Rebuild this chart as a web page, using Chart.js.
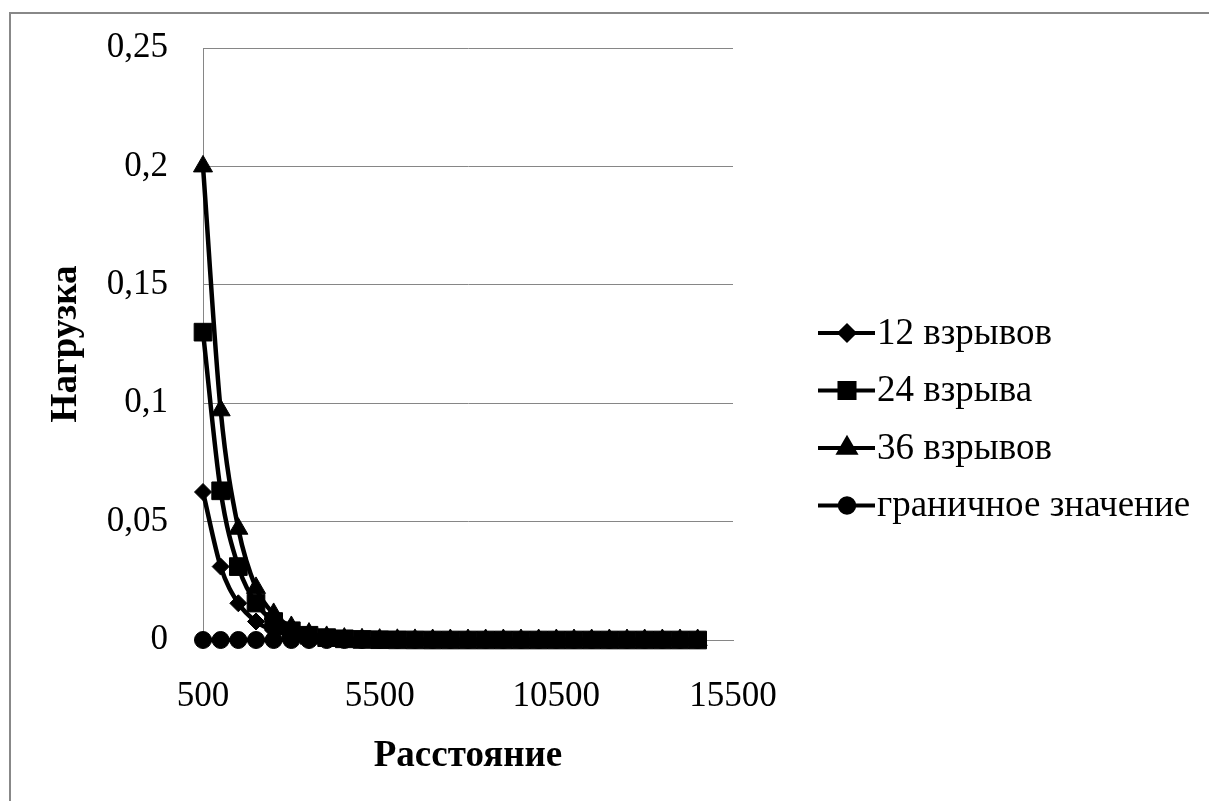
<!DOCTYPE html>
<html>
<head>
<meta charset="utf-8">
<script src="https://cdn.jsdelivr.net/npm/chart.js@4.4.0/dist/chart.umd.min.js"></script>
<style>
  html, body { margin: 0; padding: 0; background: #fff; }
  #wrap { position: relative; width: 1209px; height: 801px; overflow: hidden; }
  #frame { position: absolute; left: 9px; top: 12px; width: 1230px; height: 830px; border: 2px solid #888; }
  #chart { position: absolute; left: 0; top: 0; }
</style>
</head>
<body>
<div id="wrap">
  <div id="frame"></div>
  <canvas id="chart" width="1209" height="801"></canvas>
</div>
<script>
// distance points (x), 500 .. 14500
const distances = [500, 1000, 1500, 2000, 2500, 3000, 3500, 4000, 4500, 5000, 5500, 6000, 6500, 7000,
  7500, 8000, 8500, 9000, 9500, 10000, 10500, 11000, 11500, 12000, 12500, 13000, 13500, 14000, 14500];

const load12 = [0.0625, 0.031, 0.0155, 0.0078, 0.0039, 0.002, 0.001, 0.0005, 0.00024, 0.00012, 0.00006, 0.00003, 0, 0,
  0, 0, 0, 0, 0, 0, 0, 0, 0, 0, 0, 0, 0, 0, 0];
const load24 = [0.13, 0.063, 0.031, 0.0156, 0.0078, 0.0039, 0.002, 0.001, 0.0005, 0.00024, 0.00012, 0.00006, 0.00003, 0,
  0, 0, 0, 0, 0, 0, 0, 0, 0, 0, 0, 0, 0, 0, 0];
const load36 = [0.2, 0.097, 0.047, 0.022, 0.011, 0.0055, 0.0027, 0.0013, 0.0006, 0.0003, 0.00015, 0.00007, 0.00004, 0,
  0, 0, 0, 0, 0, 0, 0, 0, 0, 0, 0, 0, 0, 0, 0];
const limitValue = [0, 0, 0, 0, 0, 0, 0, 0, 0, 0, 0, 0, 0, 0,
  0, 0, 0, 0, 0, 0, 0, 0, 0, 0, 0, 0, 0, 0, 0];

const seriesNames = ["12 взрывов", "24 взрыва", "36 взрывов", "граничное значение"];
const xTicks = [500, 5500, 10500, 15500];
const yTicks = [0, 0.05, 0.1, 0.15, 0.2, 0.25];

const FONT = "'Liberation Serif', 'Times New Roman', serif";
const GRID = "#868686";

const markers = [
  { style: "rectRot", radius: 8.5 },
  { style: "rect", radius: 12.5 },
  { style: "triangle", radius: 11 },
  { style: "circle", radius: 8.5 }
];

function toPoints(values) {
  return values.map((v, i) => ({ x: distances[i], y: v }));
}

const seriesValues = [load12, load24, load36, limitValue];

const datasets = seriesValues.map((vals, i) => ({
  label: seriesNames[i],
  data: toPoints(vals),
  borderColor: "#000",
  backgroundColor: "#000",
  borderWidth: 4.5,
  pointStyle: markers[i].style,
  pointRadius: markers[i].radius,
  pointBorderWidth: 1,
  cubicInterpolationMode: "monotone",
  clip: false,
  order: 3 - i
}));

// legend drawn by hand: line with marker, like in Excel
const sideLegend = {
  id: "sideLegend",
  afterDraw(chart) {
    const ctx = chart.ctx;
    ctx.save();
    seriesNames.forEach((name, i) => {
      const y = 333 + i * 57.5;
      ctx.strokeStyle = "#000";
      ctx.fillStyle = "#000";
      ctx.lineWidth = 4;
      ctx.beginPath();
      ctx.moveTo(818, y);
      ctx.lineTo(875, y);
      ctx.stroke();
      Chart.helpers.drawPoint(ctx, {
        pointStyle: markers[i].style,
        radius: markers[i].radius * 0.85,
        borderWidth: 1,
        rotation: 0
      }, 847, y);
      ctx.font = "37px " + FONT;
      ctx.textAlign = "left";
      ctx.textBaseline = "middle";
      ctx.fillText(name, 877, y + 1);
    });
    ctx.restore();
  }
};

new Chart(document.getElementById("chart"), {
  type: "line",
  data: { datasets: datasets },
  plugins: [sideLegend],
  options: {
    responsive: false,
    animation: false,
    devicePixelRatio: 1,
    layout: { padding: { top: 48, right: 476, bottom: 0, left: 0 } },
    plugins: {
      legend: { display: false },
      tooltip: { enabled: false }
    },
    scales: {
      x: {
        type: "linear",
        min: 500,
        max: 15500,
        afterBuildTicks: s => { s.ticks = xTicks.map(v => ({ value: v })); },
        afterFit: s => { s.height = 161; },
        grid: { display: false, drawTicks: false },
        border: { display: true, color: GRID, width: 1 },
        ticks: {
          color: "#000",
          font: { family: FONT, size: 35 },
          padding: 36,
          maxRotation: 0,
          autoSkip: false,
          callback: v => String(v)
        },
        title: {
          display: true,
          text: "Расстояние",
          color: "#000",
          font: { family: FONT, size: 37, weight: "bold" },
          padding: { top: 0, bottom: 22 }
        }
      },
      y: {
        min: 0,
        max: 0.25,
        afterBuildTicks: s => { s.ticks = yTicks.map(v => ({ value: v })); },
        afterFit: s => { s.width = 203; s.paddingTop = 0; s.paddingBottom = 0; },
        grid: { color: GRID, lineWidth: 1, drawTicks: false },
        border: { display: true, color: GRID, width: 1 },
        ticks: {
          color: "#000",
          font: { family: FONT, size: 35 },
          padding: 35,
          callback: v => String(+v.toFixed(2)).replace(".", ",")
        },
        title: {
          display: true,
          text: "Нагрузка",
          color: "#000",
          font: { family: FONT, size: 37, weight: "bold" },
          padding: { top: 44, bottom: 0 }
        }
      }
    }
  }
});
</script>
</body>
</html>
